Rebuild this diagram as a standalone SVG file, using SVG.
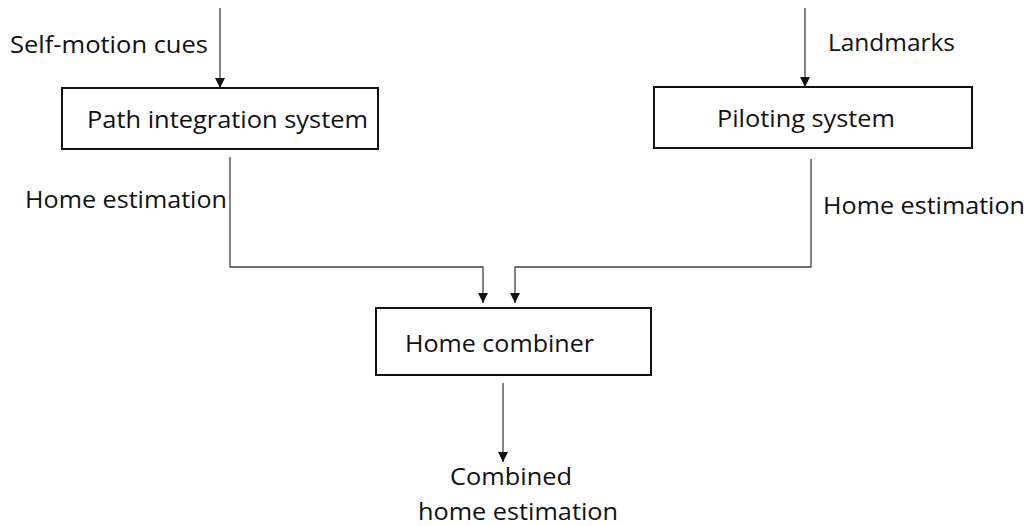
<svg xmlns="http://www.w3.org/2000/svg" width="1032" height="526" viewBox="0 0 1032 526">
  <style>
    .box { fill: #ffffff; stroke: #111111; stroke-width: 2; }
    .wire { fill: none; stroke: #444444; stroke-width: 1.3; }
    .lbl { font-family: "Open Sans", "Noto Sans", "Liberation Sans", sans-serif; font-size: 24.5px; fill: #111111; }
  </style>
  <defs>
    <marker id="arrow" viewBox="0 0 10 10" refX="10" refY="5" markerUnits="userSpaceOnUse" markerWidth="10" markerHeight="10" orient="auto">
      <path d="M0,0 L10,5 L0,10 Z" fill="#111111"/>
    </marker>
  </defs>
  <rect width="1032" height="526" fill="#ffffff"/>

  <g id="connectors">
    <line class="wire" x1="220" y1="8" x2="220" y2="88" marker-end="url(#arrow)"/>
    <line class="wire" x1="805" y1="8" x2="805" y2="87" marker-end="url(#arrow)"/>
    <polyline class="wire" points="230,157 230,267 483,267 483,303" marker-end="url(#arrow)"/>
    <polyline class="wire" points="811,159 811,267 515,267 515,303" marker-end="url(#arrow)"/>
    <line class="wire" x1="503" y1="383" x2="503" y2="462" marker-end="url(#arrow)"/>
  </g>

  <g id="input-labels">
    <text class="lbl" x="10" y="53" textLength="198" lengthAdjust="spacingAndGlyphs">Self-motion cues</text>
    <text class="lbl" x="828" y="51" textLength="127" lengthAdjust="spacingAndGlyphs">Landmarks</text>
    <text class="lbl" x="25" y="208" textLength="202" lengthAdjust="spacingAndGlyphs">Home estimation</text>
    <text class="lbl" x="823" y="214" textLength="202" lengthAdjust="spacingAndGlyphs">Home estimation</text>
  </g>

  <g id="path-integration">
    <rect class="box" x="62" y="88" width="316" height="61"/>
    <text class="lbl" x="87" y="128" textLength="281" lengthAdjust="spacingAndGlyphs">Path integration system</text>
  </g>

  <g id="piloting">
    <rect class="box" x="654" y="87" width="318" height="61"/>
    <text class="lbl" x="717" y="127" textLength="178" lengthAdjust="spacingAndGlyphs">Piloting system</text>
  </g>

  <g id="home-combiner">
    <rect class="box" x="376" y="308" width="275" height="67"/>
    <text class="lbl" x="405" y="352" textLength="189" lengthAdjust="spacingAndGlyphs">Home combiner</text>
  </g>

  <g id="output">
    <text class="lbl" x="450" y="485" textLength="122" lengthAdjust="spacingAndGlyphs">Combined</text>
    <text class="lbl" x="418" y="520" textLength="200" lengthAdjust="spacingAndGlyphs">home estimation</text>
  </g>
</svg>
